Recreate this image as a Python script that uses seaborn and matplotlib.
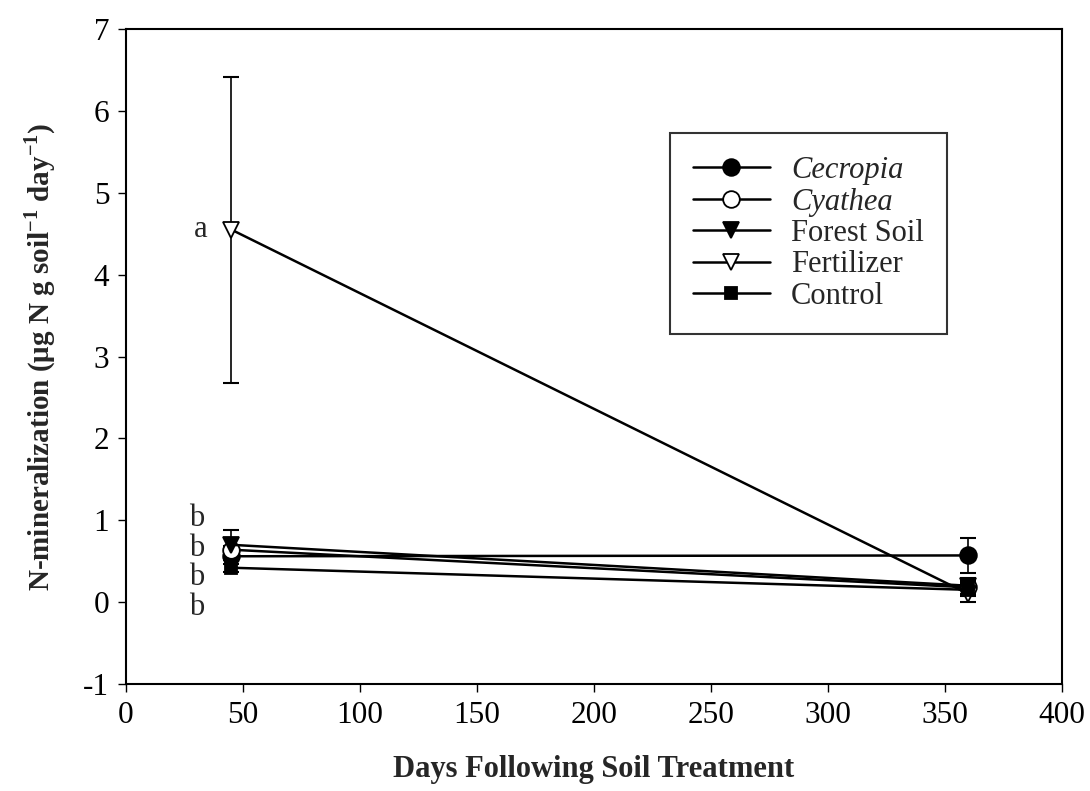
import matplotlib
matplotlib.use("Agg")
import matplotlib.pyplot as plt
import seaborn as sns
import pandas as pd

days = [45, 360]
treatments = ["Cecropia", "Cyathea", "Forest Soil", "Fertilizer", "Control"]
cecropia = [0.56, 0.57]
cecropia_err = [0.05, 0.21]
cyathea = [0.64, 0.18]
cyathea_err = [0.05, 0.08]
forest = [0.70, 0.20]
forest_err = [0.18, 0.10]
fertilizer = [4.55, 0.10]
fertilizer_err = [1.87, 0.10]
control = [0.42, 0.15]
control_err = [0.05, 0.08]

letters = ["a", "b", "b", "b", "b"]
letter_x = [32, 30, 30, 30, 30]
letter_y = [4.55, 1.02, 0.66, 0.30, -0.06]

sns.set_theme(style="ticks")
plt.rcParams["font.family"] = ["Liberation Serif", "DejaVu Serif"]
plt.rcParams["mathtext.fontset"] = "custom"
plt.rcParams["mathtext.rm"] = "Liberation Serif"
plt.rcParams["mathtext.bf"] = "Liberation Serif:bold"
plt.rcParams["axes.unicode_minus"] = False

values = [cecropia, cyathea, forest, fertilizer, control]
errors = [cecropia_err, cyathea_err, forest_err, fertilizer_err, control_err]
rows = []
for t, v, e in zip(treatments, values, errors):
    for d, y, ee in zip(days, v, e):
        rows.append({"Days": d, "Value": y, "Err": ee, "Treatment": t})
df = pd.DataFrame(rows)

styles = {
    "Cecropia": dict(marker="o", mfc="black", ms=12),
    "Cyathea": dict(marker="o", mfc="white", ms=12),
    "Forest Soil": dict(marker="v", mfc="black", ms=12),
    "Fertilizer": dict(marker="v", mfc="white", ms=12),
    "Control": dict(marker="s", mfc="black", ms=9),
}

fig = plt.figure(figsize=(10.9, 7.91), dpi=100)
ax = fig.add_axes([0.1156, 0.1353, 0.8587, 0.828])

for t in treatments:
    sub = df[df["Treatment"] == t]
    ax.errorbar(sub["Days"], sub["Value"], yerr=sub["Err"], fmt="none",
                ecolor="black", elinewidth=1.2, capsize=6, capthick=1.5, zorder=2)
for t in treatments:
    sub = df[df["Treatment"] == t]
    st = styles[t]
    sns.lineplot(data=sub, x="Days", y="Value", ax=ax, color="black", lw=1.8,
                 marker=st["marker"], markersize=st["ms"], markerfacecolor=st["mfc"],
                 markeredgecolor="black", markeredgewidth=1.3, label=t, zorder=3)

for s, x, y in zip(letters, letter_x, letter_y):
    ax.text(x, y, s, ha="center", va="center", fontsize=22)

ax.set_xlim(0, 400)
ax.set_ylim(-1, 7)
ax.set_xticks(range(0, 401, 50))
ax.set_yticks(range(-1, 8))
ax.tick_params(direction="out", length=6, width=1, labelsize=22.5, colors="black", pad=6)
for sp in ax.spines.values():
    sp.set_visible(True)
    sp.set_color("black")
    sp.set_linewidth(1.5)

ax.set_xlabel("Days Following Soil Treatment", fontsize=22, fontweight="bold", labelpad=18)
ax.set_ylabel(r"N-mineralization ($\mathbf{\mu}$g N g soil$^{\mathbf{-1}}$ day$^{\mathbf{-1}}$)",
              fontsize=21, fontweight="bold", labelpad=18)

leg = ax.legend(loc="upper right", bbox_to_anchor=(0.877, 0.841), frameon=True,
                fancybox=False, edgecolor="black", fontsize=22, handlelength=2.5,
                borderpad=0.75, labelspacing=0.08, handletextpad=0.7, borderaxespad=0)
leg.get_frame().set_linewidth(1.5)
leg.get_frame().set_facecolor("white")
for txt in leg.get_texts():
    if txt.get_text() in ("Cecropia", "Cyathea"):
        txt.set_fontstyle("italic")

fig.savefig("out.png", dpi=100, facecolor="white")
